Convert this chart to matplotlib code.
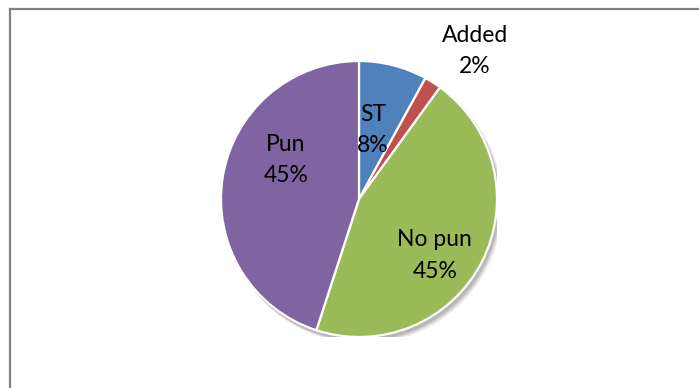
import matplotlib
matplotlib.use("Agg")
import matplotlib.pyplot as plt
from matplotlib.lines import Line2D
from matplotlib.patches import Circle

categories = ["ST", "Added", "No pun", "Pun"]
shares = [8, 2, 45, 45]
colors = ["#4F81BD", "#C0504D", "#9BBB59", "#8064A2"]
label_pos = [(0.10, 0.50), (0.84, 1.07), (0.55, -0.41), (-0.53, 0.28)]

plt.rcParams["font.family"] = ["Lato", "DejaVu Sans"]

W, H = 699, 388
fig = plt.figure(figsize=(W / 100, H / 100), dpi=100)
fig.patch.set_facecolor("white")

cx, cy, r = 359, 199, 138
ax = fig.add_axes([(cx - r) / W, (H - cy - r) / H, 2 * r / W, 2 * r / H])
ax.set_xlim(-1, 1)
ax.set_ylim(-1, 1)
ax.set_aspect("equal")
ax.axis("off")

# soft drop shadow under the pie
for i, a in enumerate([0.05, 0.05, 0.06, 0.07, 0.08]):
    off = 0.004 * (5 - i)
    ax.add_patch(Circle((0.012 + off, -0.02 - off), 1.0 + off * 0.5,
                        color="black", alpha=a, lw=0, zorder=0))

ax.pie(shares, colors=colors, startangle=90, counterclock=False, radius=1.0,
       wedgeprops=dict(edgecolor="white", linewidth=1.6))
ax.set_xlim(-1, 1)
ax.set_ylim(-1, 1)

for name, val, (x, y) in zip(categories, shares, label_pos):
    ax.text(x, y, f"{name}\n{val}%", ha="center", va="center", fontsize=16.5,
            color="black", linespacing=1.6, clip_on=False)

# chart frame (top and left edges)
fig.add_artist(Line2D([9.5 / W, 1.0], [(H - 8.5) / H, (H - 8.5) / H],
                      transform=fig.transFigure, color="#808080", lw=1.6))
fig.add_artist(Line2D([9.5 / W, 9.5 / W], [0.0, (H - 8.5) / H],
                      transform=fig.transFigure, color="#808080", lw=1.6))

fig.savefig("out.png", dpi=100)
